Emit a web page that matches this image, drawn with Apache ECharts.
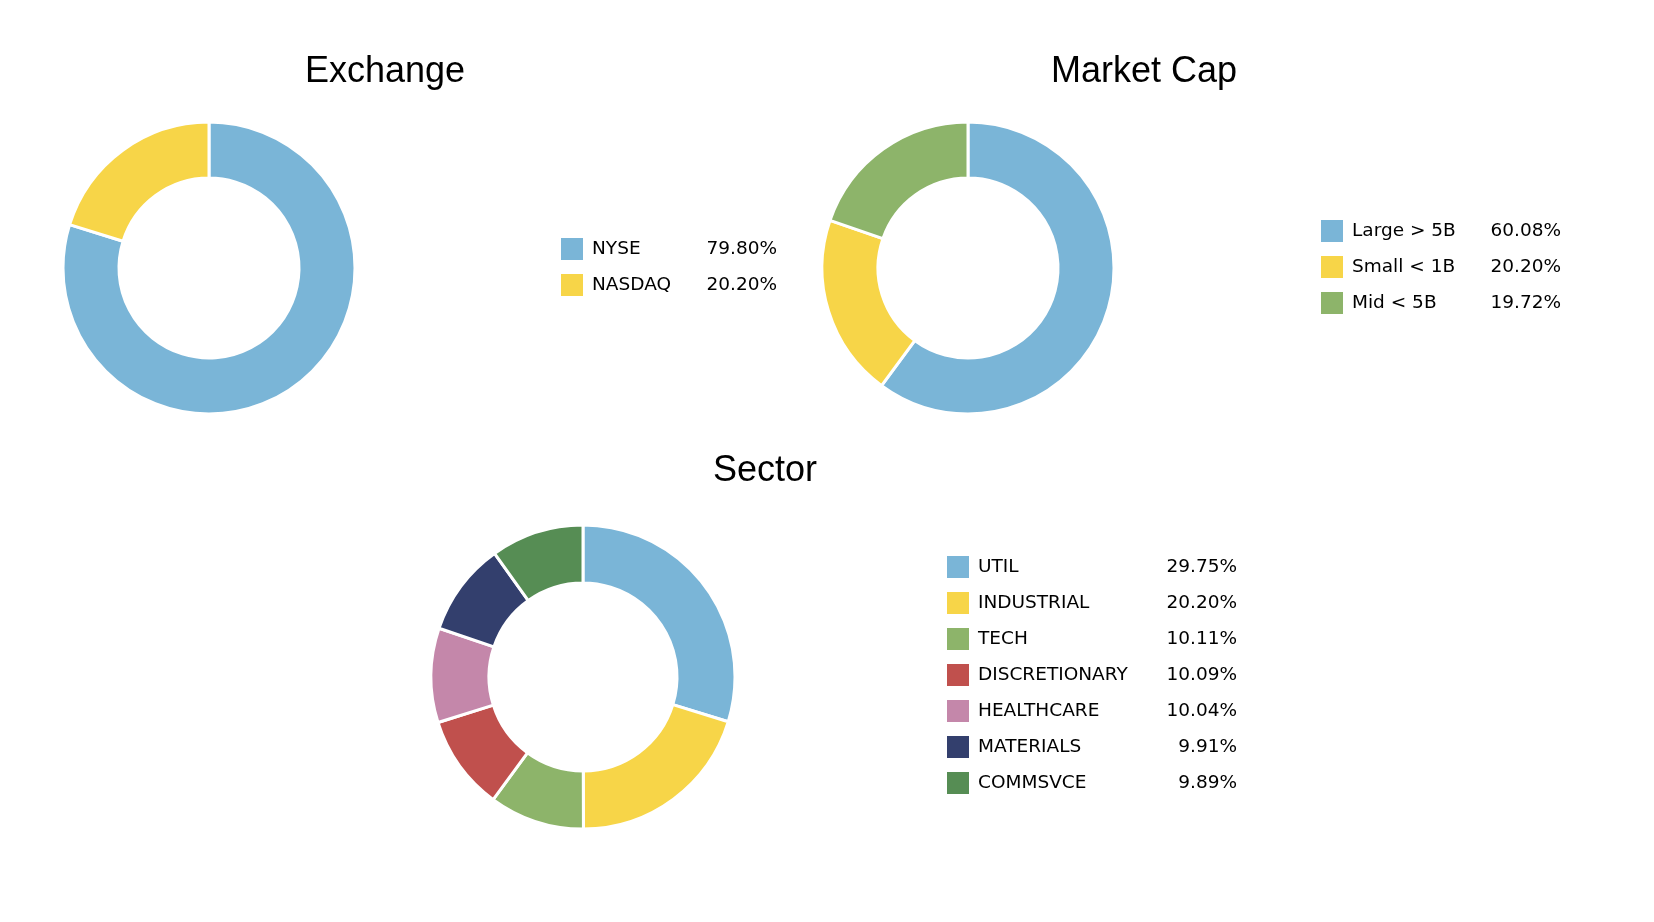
<!DOCTYPE html>
<html>
<head>
<meta charset="utf-8">
<script src="https://cdn.jsdelivr.net/npm/echarts@6/dist/echarts.min.js"></script>
<style>html,body{margin:0;padding:0;background:#fff}#c{width:1654px;height:922px}</style>
</head>
<body>
<div id="c"></div>
<script>
var exchangeNames = ['NYSE', 'NASDAQ'];
var exchangeValues = [79.80, 20.20];
var capNames = ['Large > 5B', 'Small < 1B', 'Mid < 5B'];
var capValues = [60.08, 20.20, 19.72];
var sectorNames = ['UTIL', 'INDUSTRIAL', 'TECH', 'DISCRETIONARY', 'HEALTHCARE', 'MATERIALS', 'COMMSVCE'];
var sectorValues = [29.75, 20.20, 10.11, 10.09, 10.04, 9.91, 9.89];
var titles = ['Exchange', 'Market Cap', 'Sector'];

var palette = ['#7ab5d7', '#f7d548', '#8db46a', '#c0504d', '#c487aa', '#333f6d', '#568d54'];

function mkData(names, values) {
  return names.map(function (n, i) {
    return { name: n, value: values[i], itemStyle: { color: palette[i] } };
  });
}
function pctMap(names, values) {
  var m = {};
  names.forEach(function (n, i) { m[n] = values[i].toFixed(2) + '%'; });
  return m;
}
var pm = Object.assign({}, pctMap(exchangeNames, exchangeValues), pctMap(capNames, capValues), pctMap(sectorNames, sectorValues));

function mkLegend(idx, names, left, top, nameW) {
  return {
    seriesIndex: idx,
    data: names,
    orient: 'vertical',
    left: left, top: top,
    padding: 0,
    itemWidth: 22, itemHeight: 22, itemGap: 14,
    icon: 'rect',
    itemStyle: { borderWidth: 0 },
    selectedMode: false,
    formatter: function (n) { return '{n|' + n + '}{p|' + pm[n] + '}'; },
    textStyle: {
      fontFamily: 'DejaVu Sans', fontSize: 18.5, color: '#000',
      rich: {
        n: { fontFamily: 'DejaVu Sans', fontSize: 18.5, color: '#000', width: nameW, padding: [0, 0, 0, 4], lineHeight: 22 },
        p: { fontFamily: 'DejaVu Sans', fontSize: 18.5, color: '#000', width: 80, align: 'right', lineHeight: 22 }
      }
    }
  };
}

var titleStyle = { fontFamily: 'Liberation Sans', fontSize: 36, fontWeight: 'normal', color: '#000' };
var chart = echarts.init(document.getElementById('c'));
var pieBase = {
  type: 'pie', label: { show: false }, labelLine: { show: false },
  silent: true, startAngle: 90, clockwise: true,
  itemStyle: { borderColor: '#fff', borderWidth: 3 },
  emphasis: { disabled: true }
};
chart.setOption({
  animation: false,
  backgroundColor: '#fff',
  title: [
    { text: titles[0], left: 385, top: 54, padding: 0, textAlign: 'center', textStyle: titleStyle },
    { text: titles[1], left: 1144, top: 54, padding: 0, textAlign: 'center', textStyle: titleStyle },
    { text: titles[2], left: 765, top: 453, padding: 0, textAlign: 'center', textStyle: titleStyle }
  ],
  legend: [
    mkLegend(0, exchangeNames, 561, 238, 105),
    mkLegend(1, capNames, 1321, 220, 129),
    mkLegend(2, sectorNames, 947, 556, 179)
  ],
  series: [
    Object.assign({}, pieBase, { name: 'Exchange', center: [209, 268], radius: [90, 146], data: mkData(exchangeNames, exchangeValues) }),
    Object.assign({}, pieBase, { name: 'Market Cap', center: [968, 268], radius: [90, 146], data: mkData(capNames, capValues) }),
    Object.assign({}, pieBase, { name: 'Sector', center: [583, 677], radius: [94, 152], data: mkData(sectorNames, sectorValues) })
  ]
});
</script>
</body>
</html>
